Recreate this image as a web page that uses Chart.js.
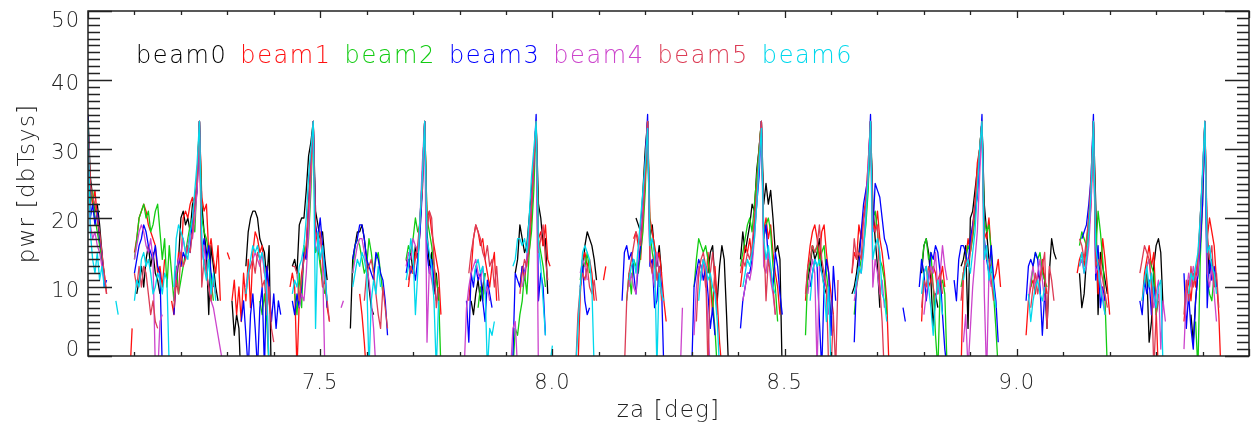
<!DOCTYPE html>
<html><head><meta charset="utf-8">
<script src="https://cdn.jsdelivr.net/npm/chart.js@4.4.1/dist/chart.umd.min.js"></script>
<style>html,body{margin:0;padding:0;background:#fff;overflow:hidden}#c{display:block}</style>
</head><body>
<canvas id="c" width="1253" height="430"></canvas>
<script>
// ---- data (za sampled every zaStep deg; each segment = [start za, values in dbTsys]) ----
const zaStep = 0.005;
const beamNames = ['beam0','beam1','beam2','beam3','beam4','beam5','beam6'];
const beamColors = ['#000000','#ff1010','#12cc12','#0000ff','#cc44cc','#dc3c55','#00d8ec'];
const xTickLabels = ['7.5','8.0','8.5','9.0'];
const yTickLabels = ['0','10','20','30','40','50'];
const xTitle = 'za [deg]';
const yTitle = 'pwr [dbTsys]';

const beam0 = [
 [7.000,[35,26,23,21,22,19,15,11]],
 [7.105,[9,11,13,10,14,16,13,15,12,11,9]],
 [7.190,[10,14,20,21,19,20,18,22,23,25,34,22,18,15,6,16,13,10,8]],
 [7.310,[8,3,6,4,-5]],
 [7.340,[13,18,20,21,21,20,17,16,15,11,16,-5]],
 [7.440,[13,14,12,19,20,20,24,29,31,34,21,19,17,18,14,11]],
 [7.565,[4,14,16,18,18,19,17,14,10,7,6]],
 [7.685,[14,13,15,12,16,14,20,26,34,18,13,15,9,12,8]],
 [7.825,[8,6,9,11,8,10,12]],
 [7.920,[12,14,19,17,15,16,20,24,28,34,22,20,16,17,9]],
 [8.065,[12,16,18,17,16,14,11]],
 [8.180,[20,19,18,24,30,34,17,19,15,13,16,12]],
 [8.335,[12,15,16,11,8,13,16,14,6,-3]],
 [8.405,[14,18,15,17,19,22,21,27,30,34,22,25,22,24,20,15,16,14,-3]],
 [8.550,[11,13,16,14,15,17,13,10,9]],
 [8.645,[9,10,12,15,18,20,22,25,34,22,17,13,7]],
 [8.795,[12,16,17,15,11,4,9,7]],
 [8.880,[13,14,16,4,20,21,24,27,30,34,22,18,14,12]],
 [9.055,[13,11,4,12,17,15,14]],
 [9.135,[12,7,9,14,18,24,34,22,6,15,13,11,9]],
 [9.280,[12,2,5,13,16,17,15,7]],
 [9.375,[6,2,8,12,20,26,34,16,12,14,10]]
];
const beam1 = [
 [7.000,[33,24,22,24,20,17,14,12,9]],
 [7.090,[-3,4]],
 [7.100,[15,17,20,21,22,21,19,18,17,16,12,13,10,14]],
 [7.180,[8,6,11,15,13,20,21,20,22,23,21,24,34,23,21,22,15,17,14,12,16,8]],
 [7.300,[15,14]],
 [7.310,[8,11,6,10,5,12,8,14,7,15,18,17,15,16,12,13,8,5]],
 [7.435,[10,12,10,-2,8,12,14,16,22,28,34,18,16,14,10,11,7,5]],
 [7.585,[9,6,2,-3]],
 [7.690,[10,13,12,15,14,18,26,34,20,21,18,16,14,12,6]],
 [7.820,[8,12,17,19,18,16,17,14,12,10,13,15,8]],
 [7.930,[10,13,11,14,15,20,28,34,17,18,16,19,14,13]],
 [8.055,[-2,9,14,15,13,14,12,8]],
 [8.110,[11,13]],
 [8.175,[17,18,16,14,20,26,34,20,18,16,14,15,12,8,5]],
 [8.320,[12,14,10,15,11,6,13,8,2,-2]],
 [8.405,[10,13,16,15,17,14,19,25,30,34,18,20,17,19,15,12,10,6]],
 [8.545,[8,13,16,18,19,17,14,18,19,15,12,9,6]],
 [8.645,[12,15,14,19,17,20,23,28,34,20,18,21,17,15,12,8,-2]],
 [8.795,[5,12,13,10,11,13,12,9,11,13,10]],
 [8.880,[-2,12,14,17,15,19,22,28,30,34,18,17,20,15,11,12,14,10]],
 [9.020,[3,8,10,11,9,12,11,14,11,9]],
 [9.130,[12,14,15,13,16,18,22,34,19,9,12,17,14,10,6]],
 [9.270,[8,12,14,16,13,15,7,-3]],
 [9.360,[5,9,11,8,12,10,14,16,24,34,17,20,18,16,11,6,-3]]
];
const beam2 = [
 [7.000,[33,22,24,20,18,16,14,12]],
 [7.100,[14,17,20,21,22,20,21,18,19,21,22,18,14,17,10,16,12,8,13,9,11,13,15,17,19,20,18,26,34,20,18,17,15,11,8]],
 [7.370,[8,6,9,5,-2]],
 [7.445,[9,6,12,7,16,14,17,24,34,15,16,13,11,9]],
 [7.570,[12,16,17,16,14,12,13,17,15,12,14,15,12,9]],
 [7.685,[14,16,15,17,20,18,19,25,34,20,18,16,13,11,9,-2]],
 [7.840,[7,10,8,12]],
 [7.915,[-2,4,3,6,8,12,9,15,18,24,34,17,15,13,10]],
 [8.060,[11,14,13,15,12]],
 [8.160,[8,12,9,14,13,12,15,18,24,34,18,15,13,12,10]],
 [8.305,[10,14,17,16,15,16,14,11,8,4,-2]],
 [8.405,[13,15,17,19,20,18,22,26,30,34,17,19,20,18,13,10,5]],
 [8.545,[3,12,14,16,15,16,13,15,16,12,9,6]],
 [8.650,[6,10,12,14,16,19,24,34,20,21,18,14,13,11,6]],
 [8.795,[13,16,17,14,15,10,3,-2,10,11,9,-2]],
 [8.880,[10,12,14,16,15,17,20,24,30,34,20,18,19,15,9,4,-2]],
 [9.030,[10,13,15,14,15,12,11,10]],
 [9.135,[16,18,17,16,20,24,34,15,21,18,14,8,-2]],
 [9.275,[10,13,14,13,12,6,8]],
 [9.385,[5,-2,14,22,34,11,9,8,12,10]]
];
const beam3 = [
 [7.000,[35,20,22,19,21,17,15,10,11]],
 [7.100,[12,14,16,17,19,18,16,15,14,16,13,12,-2]],
 [7.185,[6,12,14,13,15,14,16,15,20,22,24,34,15,17,14,16,12,10]],
 [7.330,[5,8,3,-2,6,9,4,-2,7,10,-2,13,10,5,9,4,8,6]],
 [7.440,[8,6,9,7,10,15,14,22,28,34,19,17,20,16,13,7]],
 [7.570,[14,16,17,19,19,17,14,13,12,11,15,14,12,11,8,3]],
 [7.685,[12,14,12,13,11,14,18,24,34,15,12,14,11,8]],
 [7.815,[8,2,12,10,13,11,12,8,5,11,9,7]],
 [7.915,[0,12,11,10,13,12,14,18,22,28,35,8,12,10,3]],
 [8.060,[10,13,8,6,7]],
 [8.150,[8,15,16,14,15,12,9,13,16,22,28,35,13,14,7,8,13,10,-2]],
 [8.300,[-2,10,12,14,13,11,13,9,4,7,3]],
 [8.405,[4,8,10,12,12,14,18,22,26,34,17,19,14,12,10,15,13,9,6]],
 [8.555,[10,12,14,13,5,-2,10,14,12,3,13,8]],
 [8.650,[2,11,13,18,22,24,26,35,18,25,24,23,20,17,16,14]],
 [8.755,[7,5]],
 [8.790,[10,14,12,8,11,15,14,16,15,12,6,1,-2]],
 [8.865,[11,8,14,16,16,15,13,17,19,21,23,28,35,17,14,12,16,11,8,2]],
 [9.020,[8,13,14,13,15,14,10,3,9,6]],
 [9.140,[17,18,19,22,26,35,11,16,7,10,8]],
 [9.265,[8,6,11,9,11,6,10,7]],
 [9.360,[12,4,9,4,1,8,12,16,22,34,7,14,11,13,10]]
];
const beam4 = [
 [7.000,[34,19,17,18,16,15,13,11]],
 [7.100,[14,16,18,19,18,16,15,17,14,-2,-3,5,6]],
 [7.185,[8,12,14,15,17,15,16,18,17,20,24,34,14,16,12,10,8,7,5,3,1,-1]],
 [7.340,[10,12,13,14,15,14,13,15,12,10,-2]],
 [7.455,[7,9,8,12,18,26,34,16,15,17,14,-2]],
 [7.545,[7,8]],
 [7.570,[12,14,16,17,17,15,13,11,8,4,-2]],
 [7.685,[13,15,14,17,16,15,20,28,34,2,13,11,9]],
 [7.810,[-2,7,10,12,13,14,12,11,13,9,10,8]],
 [7.910,[-2,4,5,-2]],
 [7.935,[10,12,14,18,22,28,34,-3]],
 [8.060,[12,14,13,11]],
 [8.165,[10,12,10,9,15,18,22,28,34,14,12,10,15,12,9]],
 [8.275,[-3,7]],
 [8.305,[3,10,13,11,14,12,4,-2]],
 [8.410,[8,10,12,11,13,17,22,28,34,13,12,15,11,9,6]],
 [8.550,[9,12,14,12,-2,13,12,11,10,6]],
 [8.650,[8,10,13,12,16,22,28,34,10,14,12,9,11,7]],
 [8.800,[6,9,11,13,12,15,9,12,16,13,11]],
 [8.885,[2,6,-2,4,10,14,18,26,34,9,-3,12,10]],
 [9.025,[8,11,13,10,12,14,11,8]],
 [9.135,[13,14,12,13,16,22,34,12,13,11,9,6]],
 [9.275,[11,13,14,10,7,9,11,1,8,5]],
 [9.360,[1,9,12,10,13,11,12,18,26,34,12,10,13,9,5]]
];
const beam5 = [
 [7.000,[34,25,23,22,20,18,15,12,9]],
 [7.100,[12,10,13,10,13,12,9,6,8,5,4]],
 [7.185,[7,11,9,15,13,14,16,15,18,22,26,34,10,14,12,10,8,11,9]],
 [7.340,[9,12,13,14,12,15,14,10,11,6,10,4,2]],
 [7.440,[13,13,12,8,11,14,16,22,28,34,18,17,18,14,11,8,5]],
 [7.595,[8,12,13,14,12,9,6,4,10,7,4]],
 [7.690,[11,13,12,14,16,20,24,34,18,21,20,14,7,10]],
 [7.820,[12,15,17,19,18,17,15,14,16,13,14,10,13,8]],
 [7.930,[9,12,14,13,16,22,28,34,15,17,19,14,11]],
 [8.050,[-2,6,10,12,11,13,10,9,11,8]],
 [8.155,[-2,8,12,14,16,18,17,16,20,26,34,14,12,15,11,13,8]],
 [8.310,[5,12,14,15,13,-2,12,15,11,6]],
 [8.405,[12,14,13,15,14,16,20,24,29,34,18,8,14,12,10,6]],
 [8.545,[9,13,14,16,15,16,19,14,12,10,-2]],
 [8.600,[-2,6,-2,11]],
 [8.645,[12,17,14,15,14,20,22,26,34,19,18,19,10,5,-3]],
 [8.795,[7,11,10,13,12,10,8,11,12,9]],
 [8.880,[8,12,14,13,15,18,22,26,30,34,16,14,14,11,8]],
 [9.030,[7,10,12,9,11,13,15,4,13,11,8]],
 [9.135,[17,16,14,17,20,26,34,13,14,13,11,9,7]],
 [9.265,[12,14,16,15,14,11,-2,6,9]],
 [9.360,[6,11,8,13,10,12,14,20,26,34,18,14,16,10,12,7]]
];
const beam6 = [
 [7.000,[34,18,14,12,15,11,13,10]],
 [7.060,[8,6]],
 [7.100,[8,11,10,14,15,13,14,12,9,10,12,11,9,12,11,-2]],
 [7.185,[10,17,19,18,17,15,14,18,20,24,28,34,17,13,11,14,9,12,8]],
 [7.340,[9,12,14,16,15,16,14,15,13,9,-2]],
 [7.440,[9,11,10,13,14,16,20,26,30,34,4,18,14,16,12,8]],
 [7.570,[10,12,14,13,15,14,12,-2,8,11,9,13,10]],
 [7.685,[11,13,17,15,6,12,20,26,34,17,15,13,8,-2,8]],
 [7.830,[11,13,14,12,13,10,-2,4,3,5]],
 [7.915,[13,14,17,17,16,17,15,20,26,30,34,16,13,8,3]],
 [7.995,[-1,1.5]],
 [8.050,[-2,4,10,15,16,15,14,10,-2]],
 [8.165,[11,13,14,12,16,20,24,28,33,16,17,15,-2,12,9,8]],
 [8.315,[8,12,14,13,11,12,10,9,5,-2]],
 [8.410,[10,12,14,13,15,17,22,28,33,17,14,16,13,10,9]],
 [8.555,[8,12,14,13,14,12,10,5,10,-2]],
 [8.650,[9,11,13,12,15,20,26,34,14,16,17,15,9,8,5]],
 [8.795,[9,12,13,10,7,3,8,11,9,6]],
 [8.885,[11,13,14,12,15,18,24,30,34,14,16,11,13,10,7]],
 [9.025,[9,5,8,10,11,9,8,10]],
 [9.135,[13,15,12,14,18,24,34,16,13,10,8,6]],
 [9.270,[8,11,13,10,12,9,7,10,11,-2]],
 [9.370,[9,12,11,13,15,20,27,34,15,16,13,12,9]]
];
const beams = [beam0, beam1, beam2, beam3, beam4, beam5, beam6];

// ---- build Chart.js data from the segments ----
function segmentsToPoints(segs) {
  const pts = [];
  segs.forEach(([start, vals], k) => {
    if (k > 0) pts.push({x: start - zaStep / 2, y: null});
    vals.forEach((v, i) => pts.push({x: Math.round((start + i * zaStep) * 1000) / 1000, y: v}));
  });
  return pts;
}

const FONT = '"DejaVu Sans", "Liberation Sans", sans-serif';
const INK = '#222222';

const idlFrame = {
  id: 'idlFrame',
  afterDatasetsDraw(chart) {
    const {ctx, chartArea: a, scales: {x, y}} = chart;
    ctx.save();
    ctx.strokeStyle = INK;
    ctx.lineWidth = 1.3;
    ctx.beginPath();
    const nx = Math.round((x.max - x.min) / 0.1);
    for (let i = 0; i <= nx; i++) {
      const v = x.min + i * 0.1;
      const px = Math.round(x.getPixelForValue(v)) + 0.5;
      const len = (i % 5 === 0) ? 7 : 4;
      ctx.moveTo(px, a.bottom); ctx.lineTo(px, a.bottom - len);
      ctx.moveTo(px, a.top); ctx.lineTo(px, a.top + len);
    }
    const ny = Math.round(y.max - y.min);
    for (let i = 0; i <= ny; i++) {
      const v = y.min + i;
      const py = Math.round(y.getPixelForValue(v)) + 0.5;
      const len = (i % 10 === 0) ? 24 : 12;
      ctx.moveTo(a.left, py); ctx.lineTo(a.left + len, py);
      ctx.moveTo(a.right, py); ctx.lineTo(a.right - len, py);
    }
    ctx.stroke();
    ctx.lineWidth = 1.5;
    ctx.strokeRect(a.left, a.top, a.right - a.left, a.bottom - a.top);

    ctx.fillStyle = INK;
    ctx.font = '200 21px ' + FONT;
    ctx.letterSpacing = '1px';
    ctx.textAlign = 'center';
    ctx.textBaseline = 'middle';
    xTickLabels.forEach(t => {
      ctx.fillText(t, x.getPixelForValue(parseFloat(t)), a.bottom + 28);
    });
    ctx.textAlign = 'right';
    yTickLabels.forEach(t => {
      let py = y.getPixelForValue(parseFloat(t)) + 5;
      py = Math.min(Math.max(py, a.top + 11), a.bottom - 5);
      ctx.fillText(t, a.left - 8, py);
    });
    ctx.font = '200 23px ' + FONT;
    ctx.letterSpacing = '1.2px';
    ctx.textAlign = 'center';
    ctx.fillText(xTitle, (a.left + a.right) / 2, a.bottom + 55);
    ctx.save();
    ctx.translate(28, (a.top + a.bottom) / 2);
    ctx.rotate(-Math.PI / 2);
    ctx.fillText(yTitle, 0, 0);
    ctx.restore();
    ctx.font = '200 24px ' + FONT;
    ctx.letterSpacing = '1.6px';
    ctx.textAlign = 'left';
    ctx.textBaseline = 'alphabetic';
    chart.data.datasets.forEach((ds, i) => {
      ctx.fillStyle = ds.borderColor;
      ctx.fillText(ds.label, a.left + 48 + i * 104.3, a.top + 52);
    });
    ctx.restore();
  }
};

new Chart(document.getElementById('c'), {
  type: 'line',
  data: {
    datasets: beams.map((segs, i) => ({
      label: beamNames[i],
      data: segmentsToPoints(segs),
      borderColor: beamColors[i],
      backgroundColor: beamColors[i],
      borderWidth: 1.3,
      borderJoinStyle: 'round',
      pointRadius: 0,
      tension: 0,
      spanGaps: false,
      fill: false,
      clip: 0,
      order: beams.length - 1 - i
    }))
  },
  options: {
    responsive: false,
    animation: false,
    devicePixelRatio: 1,
    parsing: true,
    layout: {padding: {top: 11, right: 4, left: 0, bottom: 0}},
    plugins: {legend: {display: false}, tooltip: {enabled: false}},
    scales: {
      x: {
        type: 'linear', min: 7.0, max: 9.5,
        grid: {display: false}, border: {display: false},
        ticks: {display: false},
        afterFit(s) { s.height = 74; }
      },
      y: {
        type: 'linear', min: 0, max: 50,
        grid: {display: false}, border: {display: false},
        ticks: {display: false},
        afterFit(s) { s.width = 88; }
      }
    }
  },
  plugins: [idlFrame]
});
</script>
</body></html>
